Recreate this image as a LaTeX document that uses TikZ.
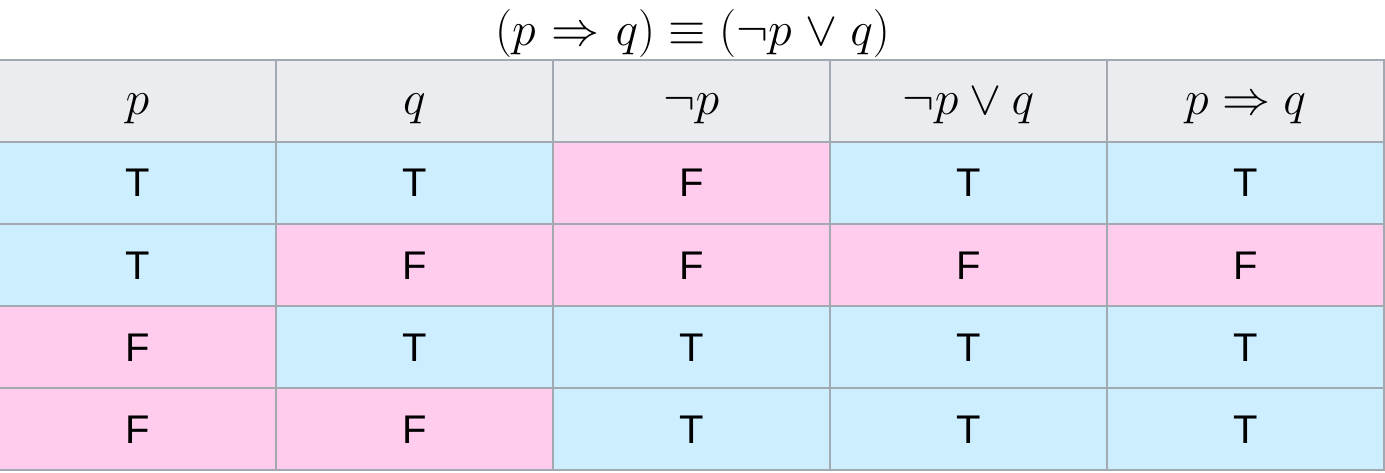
\RequirePackage{fix-cm}
\documentclass[tikz,border=0pt]{standalone}
\usepackage{fontspec}
\newfontfamily\tfsans{Liberation Sans}
\usepackage{tikz}
\definecolor{headgrey}{HTML}{EAECF0}
\definecolor{truecol}{HTML}{CCEEFF}
\definecolor{falsecol}{HTML}{FFCCEE}
\definecolor{rulegrey}{HTML}{A2A9B1}
\tikzset{
  cell/.style={draw=rulegrey,line width=2pt,minimum width=277pt,minimum height=82pt,
    inner sep=0pt,text height=28pt,text depth=0pt},
  head/.style={cell,fill=headgrey,font=\fontsize{48}{52}\selectfont},
  T cell/.style={cell,fill=truecol,font=\tfsans\fontsize{40}{44}\selectfont},
  F cell/.style={cell,fill=falsecol,font=\tfsans\fontsize{40}{44}\selectfont}
}

\begin{document}
\begin{tikzpicture}[x=1pt,y=1pt]
\useasboundingbox (0,0) rectangle (1385,472);

\node[anchor=base,inner sep=0pt,font=\fontsize{48}{52}\selectfont] (title) at (692.5,426)
  {$(p \mathrel{\mkern1mu\Rightarrow\mkern1mu} q) \equiv (\neg p \mathbin{\mkern1mu\vee\mkern1mu} q)$};

\node[head] (h1) at (137.5,371) {$p$};
\node[head] (h2) at (414.5,371) {$q$};
\node[head] (h3) at (691.5,371) {$\neg p$};
\node[head] (h4) at (968.5,371) {$\neg p \vee q$};
\node[head] (h5) at (1245.5,371) {$p \Rightarrow q$};

\foreach \row/\vals in {1/{T,T,F,T,T},2/{T,F,F,F,F},3/{F,T,T,T,T},4/{F,F,T,T,T}}
  \foreach \v [count=\c] in \vals
    \node[\v\space cell] (r\row c\c) at ({137.5+277*(\c-1)},{371-82*\row}) {\v};

\end{tikzpicture}
\end{document}
